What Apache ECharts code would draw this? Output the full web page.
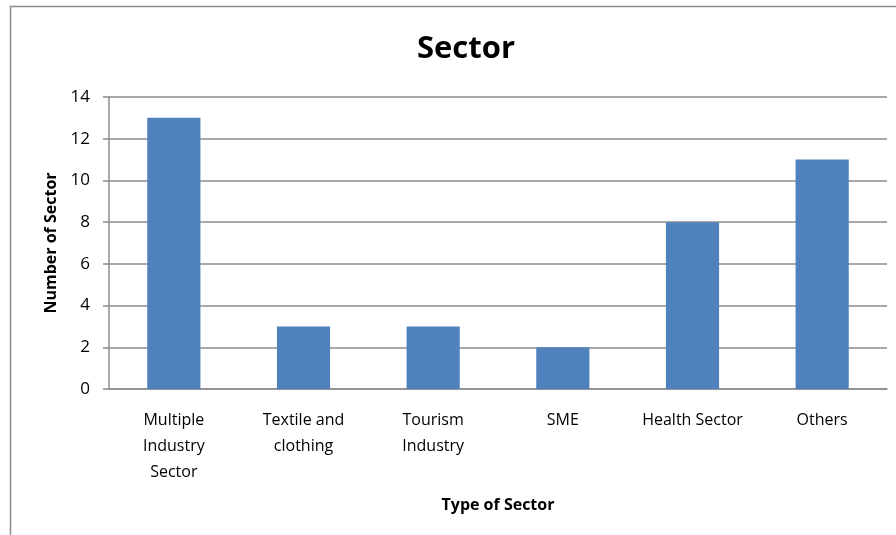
<!DOCTYPE html>
<html>
<head>
<meta charset="utf-8">
<script src="https://cdn.jsdelivr.net/npm/echarts@6/dist/echarts.min.js"></script>
<style>
  html, body { margin: 0; padding: 0; background: #fff; }
  #chart { width: 896px; height: 535px; }
</style>
</head>
<body>
<div id="chart"></div>
<script>
// values
const categories = ['Multiple\nIndustry\nSector', 'Textile and\nclothing', 'Tourism\nIndustry', 'SME', 'Health Sector', 'Others']
const counts = [13, 3, 3, 2, 8, 11]
const yTicks = [0, 2, 4, 6, 8, 10, 12, 14]

const font = '"Open Sans", Lato, sans-serif'
const grey = '#8c8c8c'

const chart = echarts.init(document.getElementById('chart'))
chart.setOption({
  animation: false,
  textStyle: { fontFamily: font },
  title: {
    text: 'Sector',
    left: 461, top: 29, textAlign: 'center',
    textStyle: { fontFamily: font, fontSize: 31, fontWeight: 'bold', color: '#000' }
  },
  graphic: [{
    type: 'rect',
    shape: { x: 10.5, y: 6.5, width: 1000, height: 1000 },
    style: { fill: 'none', stroke: grey, lineWidth: 1.5 },
    silent: true
  }],
  grid: { left: 109, right: 9, top: 97, bottom: 146 },
  xAxis: {
    type: 'category',
    data: categories,
    name: 'Type of Sector',
    nameLocation: 'middle',
    nameGap: 108,
    nameTextStyle: { fontFamily: font, fontSize: 16, fontWeight: 'bold', color: '#000' },
    axisLine: { lineStyle: { color: grey, width: 1.5 } },
    axisTick: { show: false },
    axisLabel: { interval: 0, margin: 18, fontSize: 16, lineHeight: 26, color: '#000', fontFamily: font }
  },
  yAxis: {
    type: 'value',
    min: yTicks[0], max: yTicks[yTicks.length - 1], interval: 2,
    name: 'Number of Sector',
    nameLocation: 'middle',
    nameGap: 48,
    nameTextStyle: { fontFamily: font, fontSize: 16, fontWeight: 'bold', color: '#000' },
    axisLine: { show: true, lineStyle: { color: grey, width: 1.5 } },
    axisTick: { show: true, length: 6, lineStyle: { color: grey, width: 1.5 } },
    splitLine: { lineStyle: { color: grey, width: 1.5 } },
    axisLabel: { margin: 19, fontSize: 17, color: '#000', fontFamily: font }
  },
  series: [{
    type: 'bar',
    data: counts,
    barWidth: '41%',
    itemStyle: { color: '#4f81bd' }
  }]
})
</script>
</body>
</html>
